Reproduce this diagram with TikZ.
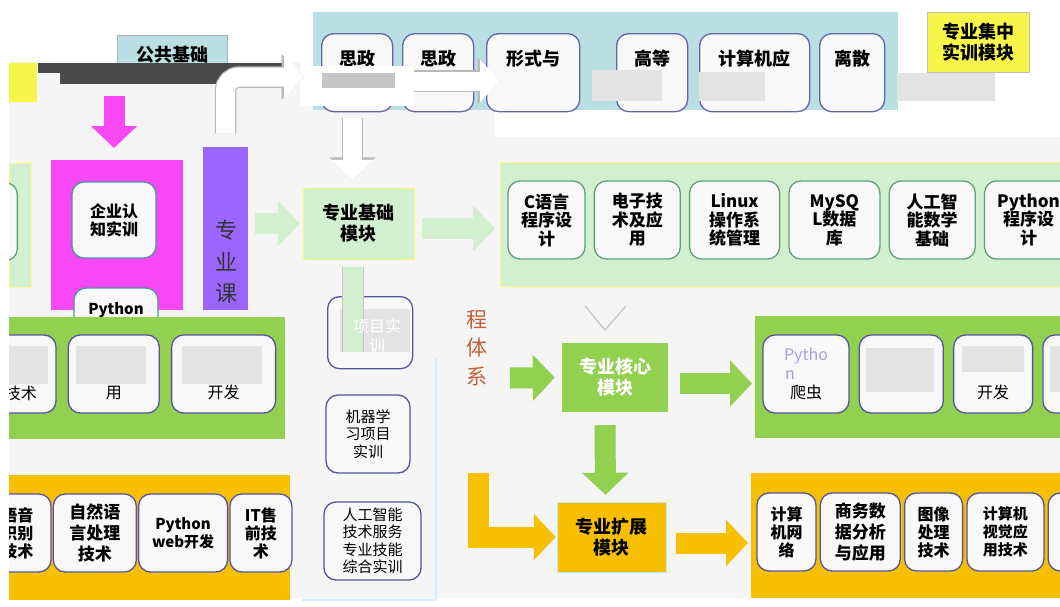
\documentclass[tikz,border=0pt]{standalone}
\usepackage{fontspec}
\setmainfont{Noto Sans CJK SC}
\usetikzlibrary{calc,arrows.meta,chains,positioning}

\definecolor{bggray}{HTML}{F5F5F5}
\definecolor{topblue}{HTML}{B9DFE2}
\definecolor{palegreen}{HTML}{D2EFD0}
\definecolor{magen}{HTML}{F848F5}
\definecolor{kpurple}{HTML}{9B66FF}
\definecolor{kgreen}{HTML}{92D050}
\definecolor{korange}{HTML}{F6C000}
\definecolor{kyellow}{HTML}{F8F54A}
\definecolor{kdark}{HTML}{4A4A4A}
\definecolor{boxfill}{HTML}{F8F8F8}
\definecolor{boxline}{HTML}{5454A0}
\definecolor{gboxline}{HTML}{5FA07A}
\definecolor{tboxline}{HTML}{6464A8}
\definecolor{qline}{HTML}{4F8F9F}
\definecolor{glitch}{HTML}{A8A0E0}
\definecolor{cxc}{HTML}{C0603A}

\newcommand\fmod{\bfseries\fontsize{18}{21}\selectfont}
\newcommand\ftop{\bfseries\fontsize{18}{28}\selectfont}
\newcommand\frow{\bfseries\fontsize{17}{18.5}\selectfont}
\newcommand\fzy{\fontsize{22}{31.5}\selectfont}
\newcommand\fqy{\bfseries\fontsize{16}{18}\selectfont}
\newcommand\fpy{\bfseries\fontsize{15}{18.5}\selectfont}
\newcommand\fjq{\fontsize{15}{17.5}\selectfont}
\newcommand\fcx{\fontsize{21}{28.5}\selectfont}
\newcommand\fob{\bfseries\fontsize{17}{21}\selectfont}
\newcommand\fos{\bfseries\fontsize{15}{18}\selectfont}
\newcommand\fom{\bfseries\fontsize{16}{18}\selectfont}
\newcommand\fgl{\fontsize{16}{19}\selectfont}

\begin{document}
\begin{tikzpicture}[x=1pt,y=-1pt,
  panel/.style={inner sep=0pt,outer sep=0pt,anchor=north west},
  rbox/.style={draw=boxline,line width=1.3pt,rounded corners=12pt,fill=boxfill,
    minimum height=78,inner sep=1pt,align=center},
  gbox/.style={rbox,draw=gboxline,font=\frow},
  modbox/.style={inner sep=0pt,align=center,font=\fmod},
  blockarrow/.style={line width=21pt,-{Triangle[width=45pt,length=22pt]}},
  outarrow/.style={line width=19pt,draw=white,-{Triangle[width=41pt,length=20pt]},
    preaction={draw=gray!55,line width=21.5pt,-{Triangle[width=45pt,length=22.5pt]}}},
  stem/.style={line width=20pt,draw=palegreen,preaction={draw=gray!45,line width=22pt}},
  smear/.style={fill=gray!22}]

\useasboundingbox (0,0) rectangle (1060,606);
\begin{scope}
\clip (9,0) rectangle (1060,600);
\fill[bggray] (9,62) -| (300,105) -| (495,137) -| (1060,598) -- (9,598) -- cycle;

% top row
\node[panel,fill=topblue,minimum width=585,minimum height=98] (gg) at (313,12) {};
\foreach \i/\x/\w/\element in {1/321/71/思政,2/402/71/思政,3/486/93/形式与,4/616/71/高等,5/699/110/计算机应,6/819/65/离散}
  \node[rbox,draw=tboxline,font=\ftop,minimum width=\w,anchor=north west] (t\i) at (\x,33) {\element\\\phantom{思}};
\fill[white] (303,66) rectangle (414,106);
\fill[gray!45] (322,73) rectangle (395,88);
\fill[smear] (592,70) rectangle (662,101);
\fill[smear] (699,72) rectangle (765,101);
\fill[smear] (897,73) rectangle (995,101);
\fill[white] (1005,64) rectangle (1060,108);
\coordinate (ga) at (414,81);
\coordinate (gb) at (500,81);
\draw[outarrow] (ga) -- (gb);

\node[panel,fill=kyellow,draw=gray!50,minimum width=102,minimum height=60,align=center,font=\fmod] (jx) at (927,12) {专业集中\\实训模块};

\node[panel,fill=topblue,draw=gray!60,minimum width=110,minimum height=40,font=\fmod] (gj) at (117,35) {公共基础};
\fill[kdark] (38,63) rectangle (283,73);
\fill[kdark] (60,63) rectangle (283,84);
\fill[kyellow] (9,63) rectangle (37,102);

% left column
\node[panel,fill=kpurple,minimum width=45,minimum height=163] (zy) at (203,147) {};
\node[font=\fzy,align=center,text=black!80] (zyt) at (226,262) {专\\业\\课};
\coordinate (bs) at ($(zy.north)+(0,-14)$);
\coordinate (be) at ($(gg.west)+(-9,16)$);
\draw[outarrow,rounded corners=14pt] (bs) |- (be);

\node[panel,fill=palegreen,draw=kyellow!60,minimum width=22,minimum height=124] (lz) at (9,163) {};
\node[rbox,draw=gboxline,minimum width=78,anchor=north east] (l0) at (18,182) {};

\node[panel,fill=magen,minimum width=132,minimum height=150] (mg) at (51,160) {};
\draw[blockarrow,magen] ($(mg.north)+(-3,-64)$) -- ($(mg.north)+(-3,-12)$);
\node[rbox,draw=qline,font=\fqy,minimum width=84,minimum height=76] (qy) at (114,220) {企业认\\知实训};
\node[rbox,draw=qline,font=\fpy,minimum width=84] (py) at (116,327) {Python\\\phantom{P}\\\phantom{P}};

% professional base
\node[modbox,fill=palegreen,draw=kyellow!70,minimum width=111,minimum height=71] (jc) at (358.5,223.5) {专业基础\\模块};
\draw[blockarrow,palegreen,shorten <=7pt,shorten >=3pt] (zy.east |- jc.west) -- (jc.west);
\draw[outarrow,shorten >=8pt] ($(jc.north)+(-6,-70)$) -- ($(jc.north)+(-6,0)$);

\node[panel,fill=palegreen,draw=kyellow!60,minimum width=600,minimum height=124] (lg) at (500,162) {};
\coordinate (j1) at ($(jc.east)+(0,5)$);
\draw[blockarrow,palegreen,shorten <=8pt,shorten >=5pt] (j1) -- (j1 -| lg.west);

\begin{scope}[xshift=546.5pt,yshift=-220pt,start chain=going right,node distance=8pt]
\def\clist{1/77/{C语言\\程序设\\计},2/86/{电子技\\术及应\\用},3/90/{Linux\\操作系\\统管理},4/91/{MySQ\\L数据\\库},5/86/{人工智\\能数学\\基础},6/88/{Python\\程序设\\计}}
\foreach \i / \w / \element in \clist
  \node[gbox,on chain,minimum width=\w] (c\i) {\element};
\end{scope}

% practice column
\node[rbox,minimum width=85,minimum height=72,anchor=north west] (px) at (327,296) {};
\fill[smear] (340,309) rectangle (410,352);
\draw[stem] ($(jc.south)+(-6,8)$) -- ($(jc.south)+(-6,93)$);
\node[font=\fgl,text=white,align=center] (pxt) at (377,336) {项目实\\训};
\node[rbox,font=\fjq,minimum width=84] (jq) at (368,434) {机器学\\习项目\\实训};
\node[rbox,font=\fjq,minimum width=97] (zn) at (372.5,541) {人工智能\\技术服务\\专业技能\\综合实训};
\draw[cyan!18,line width=1.2pt] (436,358) |- (302,600);

\node[font=\fcx,text=cxc,align=center] (kc) at (477,348) {程\\体\\系};
\draw[gray!45,line width=1.3pt] (585,306) -- (605,330) -- (626,306);

% core module
\node[modbox,fill=kgreen,text=white,minimum width=106,minimum height=69] (hx) at (615,377.5) {专业核心\\模块};
\coordinate (tx) at (510,378);
\draw[blockarrow,kgreen,shorten >=7pt] (tx) -- (hx.west);
\node[panel,fill=kgreen,minimum width=350,minimum height=122] (gp) at (755,316) {};
\coordinate (h1) at ($(hx.east)+(0,6)$);
\draw[blockarrow,kgreen,shorten <=12pt,shorten >=3pt] (h1) -- (h1 -| gp.west);

\begin{scope}[xshift=806pt,yshift=-374pt,start chain=going right,node distance=9pt]
\def\zlist{1/86/\fgl/{\textcolor{glitch}{Pytho}\\\textcolor{glitch}{n}\phantom{网络}\\爬虫},2/84/\fgl/{},3/79/\fgl/{\phantom{开}\\\phantom{开}\\开发},4/80/\fgl/{}}
\foreach \i / \w / \f / \element in \zlist
  \node[rbox,on chain,font=\f,minimum width=\w] (z\i) {\element};
\end{scope}
\fill[smear] (866,348) rectangle (934,392);
\fill[smear] (962,346) rectangle (1024,372);
\fill[smear] (1050,346) rectangle (1060,392);

\node[panel,fill=kgreen,minimum width=276,minimum height=122] (lgp) at (9,317) {};
\begin{scope}[xshift=21pt,yshift=-374pt,start chain=going right,node distance=11pt]
\def\glist{1/70/{\phantom{技}\\\phantom{技}\\技术},2/91/{\phantom{用}\\\phantom{用}\\用},3/104/{\phantom{开}\\\phantom{开}\\开发}}
\foreach \i / \w / \element in \glist
  \node[rbox,on chain,font=\fgl,minimum width=\w] (g\i) {\element};
\end{scope}
\fill[smear] (9,346) rectangle (48,384);
\fill[smear] (76,346) rectangle (146,384);
\fill[smear] (182,346) rectangle (262,384);

% extension module
\node[modbox,fill=korange,draw=cyan!25,minimum width=109,minimum height=70] (kz) at (611.5,537) {专业扩展\\模块};
\draw[blockarrow,kgreen] ($(hx.south)+(-10,13)$) -- ($(kz.north)+(-6,-7)$);
\coordinate (ls) at (478,473);
\draw[blockarrow,korange,shorten >=1pt] (ls) |- (kz.west);
\node[panel,fill=korange,minimum width=350,minimum height=125] (op) at (751,473) {};
\coordinate (k0) at ($(kz.east)+(0,6)$);
\draw[blockarrow,korange,shorten <=10pt,shorten >=3pt] (k0) -- (k0 -| op.west);

\begin{scope}[xshift=786.5pt,yshift=-532pt,start chain=going right,node distance=3pt]
\def\klist{1/59/\fom/{计算\\机网\\络},2/80/\fob/{商务数\\据分析\\与应用},3/58/\fom/{图像\\处理\\技术},4/77/\fos/{计算机\\视觉应\\用技术},5/80/\fom/{}}
\foreach \i / \w / \f / \element in \klist
  \node[rbox,on chain,font=\f,minimum width=\w] (k\i) {\element};
\end{scope}

\node[panel,fill=korange,minimum width=281,minimum height=125] (lop) at (9,475) {};
\begin{scope}[xshift=17.5pt,yshift=-533pt,start chain=going right,node distance=1pt]
\def\olist{1/67/\fom/{语音\\识别\\技术},2/83/\fob/{自然语\\言处理\\技术},3/89/\fos/{Python\\web开发},4/62/\fom/{IT售\\前技\\术}}
\foreach \i / \w / \f / \element in \olist
  \node[rbox,on chain,font=\f,minimum width=\w] (o\i) {\element};
\end{scope}
\end{scope}

\end{tikzpicture}
\end{document}
